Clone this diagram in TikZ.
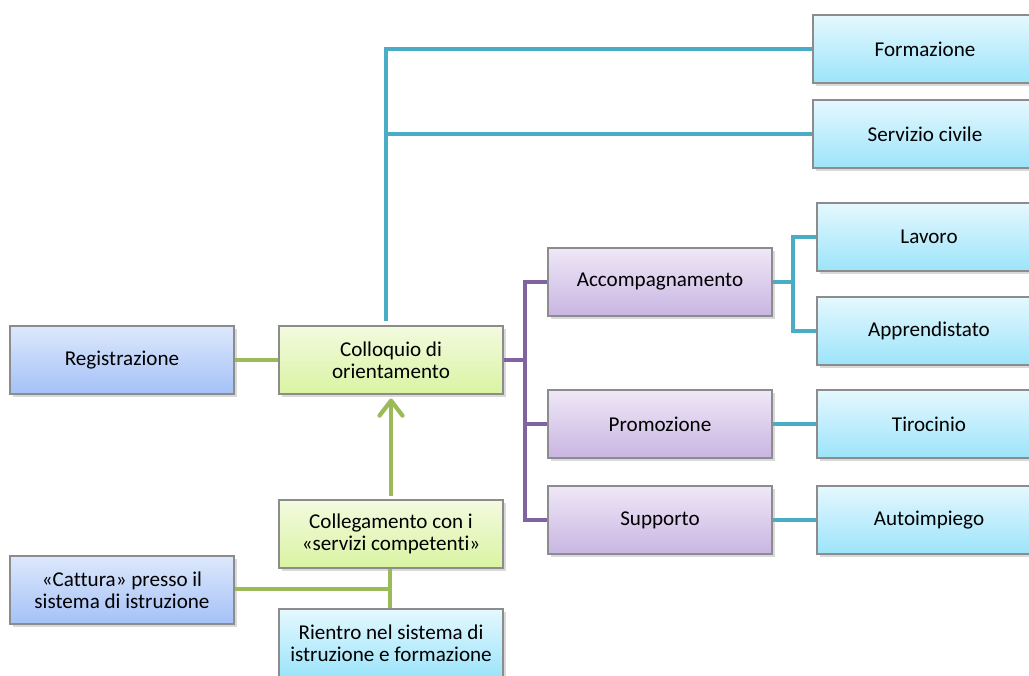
\documentclass[tikz,border=0pt]{standalone}
\usepackage{fontspec}
\setmainfont[Ligatures={NoCommon}]{Carlito}
\usepackage{tikz}
\usepackage{xcolor}
\usetikzlibrary{shadows,arrows.meta,calc}
\definecolor{tealline}{HTML}{4BACC6}
\definecolor{greenline}{HTML}{9BBB59}
\definecolor{purpleline}{HTML}{8064A2}
\definecolor{bluetop}{HTML}{DDE8FC}
\definecolor{bluebottom}{HTML}{A4C1F7}
\definecolor{greentop}{HTML}{F3FADF}
\definecolor{greenbottom}{HTML}{D9F4A2}
\definecolor{purpletop}{HTML}{EFE8F6}
\definecolor{purplebottom}{HTML}{C8B5E2}
\definecolor{cyantop}{HTML}{E5F8FE}
\definecolor{cyanbottom}{HTML}{9CE4FA}

\begin{document}
\begin{tikzpicture}
        \tikzstyle{box}=[rectangle,draw=black!45,line width=0.6pt,
        minimum width=4.48cm,minimum height=1.36cm,inner sep=2pt,align=center,
        font=\fontsize{12}{12.5}\selectfont,
        drop shadow={shadow xshift=0.05cm,shadow yshift=-0.06cm,opacity=0.3}]
        \tikzstyle{bluebox}=[box,top color=bluetop,bottom color=bluebottom]
        \tikzstyle{greenbox}=[box,top color=greentop,bottom color=greenbottom]
        \tikzstyle{purplebox}=[box,top color=purpletop,bottom color=purplebottom]
        \tikzstyle{cyanbox}=[box,top color=cyantop,bottom color=cyanbottom]
        \tikzstyle{link}=[line width=2.4pt]
        \useasboundingbox (0,0) rectangle (20.58,13.5);
        \clip (0,0) rectangle (20.58,13.5);
        \node at ( 2.44,6.30) [bluebox] (registrazione) {Registrazione};
        \node at ( 7.82,6.30) [greenbox] (colloquio) {Colloquio di\\orientamento};
        \node at ( 7.82,2.82) [greenbox] (collegamento) {Collegamento con i\\«servizi competenti»};
        \node at ( 2.44,1.70) [bluebox] (cattura) {«Cattura» presso il\\sistema di istruzione};
        \node at ( 7.82,0.64) [cyanbox] (rientro) {Rientro nel sistema di\\istruzione e formazione};
        \node at (13.20,7.86) [purplebox] (accompagnamento) {Accompagnamento};
        \node at (13.20,5.02) [purplebox] (promozione) {Promozione};
        \node at (13.20,3.10) [purplebox] (supporto) {Supporto};
        \node at (18.50,12.52) [cyanbox] (formazione) {Formazione};
        \node at (18.50,10.82) [cyanbox] (servizio) {Servizio civile};
        \node at (18.58,8.76) [cyanbox] (lavoro) {Lavoro};
        \node at (18.58,6.88) [cyanbox] (apprendistato) {Apprendistato};
        \node at (18.58,5.02) [cyanbox] (tirocinio) {Tirocinio};
        \node at (18.58,3.10) [cyanbox] (autoimpiego) {Autoimpiego};
        \coordinate (tbus) at ($(colloquio.north)+(-0.1,0.08)$);
        \coordinate (pbus) at (10.50,6.30);
        \coordinate (abus) at (15.86,7.86);
        \coordinate (gbus) at (7.80,1.72);
        \draw[link, tealline] (tbus) |- (formazione.west);
        \draw[link, tealline] (servizio.west) -- (servizio.west -| tbus);
        \draw[link, greenline] (registrazione.east) -- (colloquio.west);
        \draw[link, purpleline] (colloquio.east) -- (pbus);
        \draw[link, purpleline] (accompagnamento.west) -| (pbus |- supporto.west) -- (supporto.west);
        \draw[link, purpleline] (promozione.west) -- (pbus |- promozione.west);
        \draw[link, tealline] (accompagnamento.east) -- (abus);
        \draw[link, tealline] (lavoro.west) -| (abus |- apprendistato.west) -- (apprendistato.west);
        \draw[link, tealline] (promozione.east) -- (tirocinio.west);
        \draw[link, tealline] (supporto.east) -- (autoimpiego.west);
        \draw[link, greenline, -{Straight Barb[round,length=0.3cm,width=0.46cm]}, shorten <=0.06cm, shorten >=0.08cm]
          (collegamento.north) -- (colloquio.south);
        \draw[link, greenline] (collegamento.south -| gbus) -- (rientro.north -| gbus);
        \draw[link, greenline] (cattura.east |- gbus) -- (gbus);
\end{tikzpicture}
\end{document}
